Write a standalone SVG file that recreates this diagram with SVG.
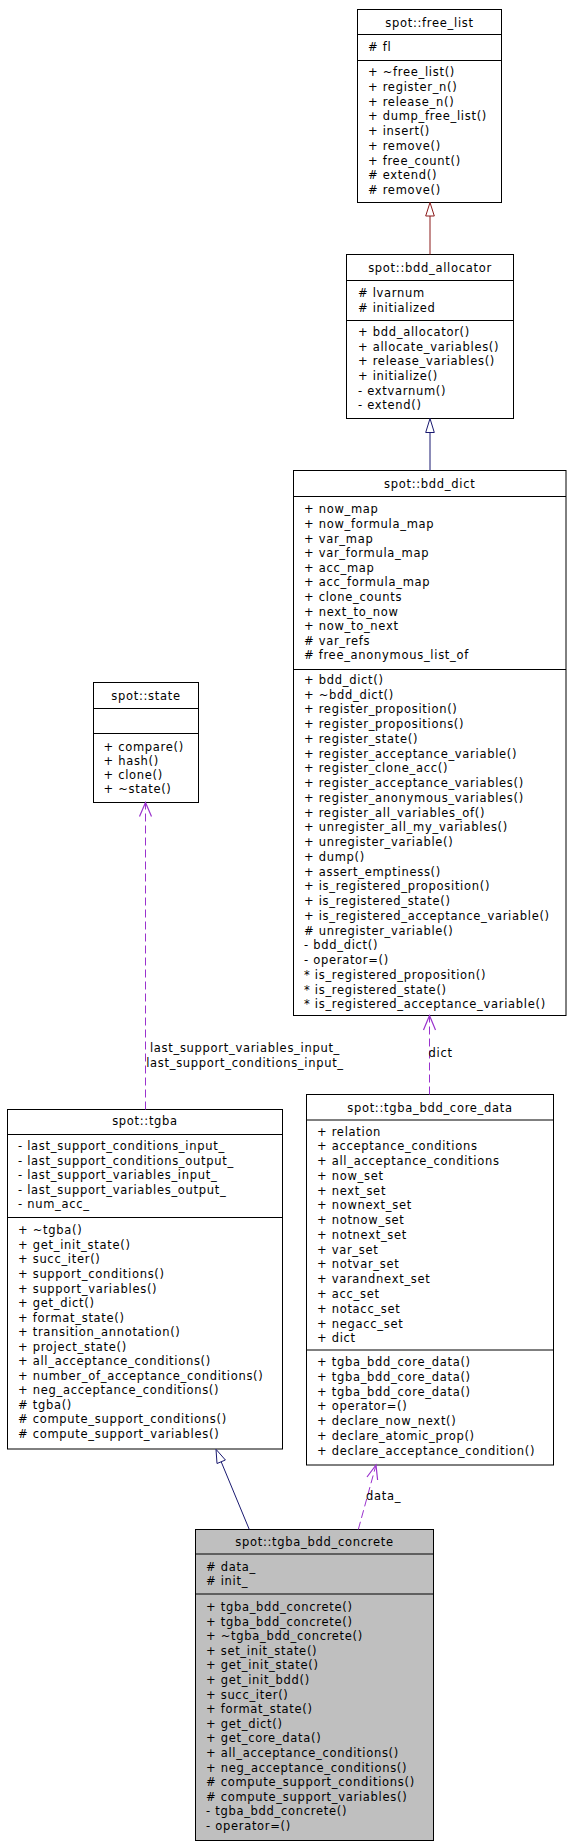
<svg xmlns="http://www.w3.org/2000/svg" width="572" height="1847" viewBox="0 0 572 1847">
<style>
.box{fill:#fff;stroke:#000;stroke-width:1}
.gray{fill:#bfbfbf}
.div{stroke:#000;stroke-width:1}
text{font-family:"DejaVu Sans","Liberation Sans",sans-serif;font-size:11.5px;letter-spacing:0.7px;fill:#000}
.t{text-anchor:middle}
.inhR{stroke:#8b1a1a;stroke-width:1;fill:none}
.inhB{stroke:#191970;stroke-width:1;fill:none}
.triR{stroke:#8b1a1a;stroke-width:1;fill:#fff}
.triB{stroke:#191970;stroke-width:1;fill:#fff}
.use{stroke:#9a32cd;stroke-width:1;fill:none;stroke-dasharray:8,4}
.head{stroke:#9a32cd;stroke-width:1.2;fill:none}
</style>
<rect width="572" height="1847" fill="#fff"/>

<g id="free_list">
<rect class="box" x="357.5" y="9.5" width="144" height="193"/>
<line class="div" x1="357.5" y1="34.5" x2="501.5" y2="34.5"/>
<line class="div" x1="357.5" y1="60.5" x2="501.5" y2="60.5"/>
<text class="t" x="429.5" y="27">spot::free_list</text>
<text x="368" y="51"># fl</text>
<text x="368" y="76">+ ~free_list()<tspan x="368" dy="14.75">+ register_n()</tspan><tspan x="368" dy="14.75">+ release_n()</tspan><tspan x="368" dy="14.75">+ dump_free_list()</tspan><tspan x="368" dy="14.75">+ insert()</tspan><tspan x="368" dy="14.75">+ remove()</tspan><tspan x="368" dy="14.75">+ free_count()</tspan><tspan x="368" dy="14.75"># extend()</tspan><tspan x="368" dy="14.75"># remove()</tspan></text>
</g>

<g id="bdd_allocator">
<rect class="box" x="346.5" y="254.5" width="167" height="164"/>
<line class="div" x1="346.5" y1="280.5" x2="513.5" y2="280.5"/>
<line class="div" x1="346.5" y1="320.5" x2="513.5" y2="320.5"/>
<text class="t" x="430" y="272">spot::bdd_allocator</text>
<text x="358" y="296.7"># lvarnum<tspan x="358" dy="14.8"># initialized</tspan></text>
<text x="358" y="336">+ bdd_allocator()<tspan x="358" dy="14.66">+ allocate_variables()</tspan><tspan x="358" dy="14.66">+ release_variables()</tspan><tspan x="358" dy="14.66">+ initialize()</tspan><tspan x="358" dy="14.66">- extvarnum()</tspan><tspan x="358" dy="14.66">- extend()</tspan></text>
</g>

<g id="bdd_dict">
<rect class="box" x="293.5" y="470.5" width="272.5" height="545"/>
<line class="div" x1="293.5" y1="496.5" x2="566" y2="496.5"/>
<line class="div" x1="293.5" y1="669.5" x2="566" y2="669.5"/>
<text class="t" x="429.7" y="488.3">spot::bdd_dict</text>
<text x="304" y="513.3">+ now_map<tspan x="304" dy="14.6">+ now_formula_map</tspan><tspan x="304" dy="14.6">+ var_map</tspan><tspan x="304" dy="14.6">+ var_formula_map</tspan><tspan x="304" dy="14.6">+ acc_map</tspan><tspan x="304" dy="14.6">+ acc_formula_map</tspan><tspan x="304" dy="14.6">+ clone_counts</tspan><tspan x="304" dy="14.6">+ next_to_now</tspan><tspan x="304" dy="14.6">+ now_to_next</tspan><tspan x="304" dy="14.6"># var_refs</tspan><tspan x="304" dy="14.6"># free_anonymous_list_of</tspan></text>
<text x="304" y="684">+ bdd_dict()<tspan x="304" dy="14.74">+ ~bdd_dict()</tspan><tspan x="304" dy="14.74">+ register_proposition()</tspan><tspan x="304" dy="14.74">+ register_propositions()</tspan><tspan x="304" dy="14.74">+ register_state()</tspan><tspan x="304" dy="14.74">+ register_acceptance_variable()</tspan><tspan x="304" dy="14.74">+ register_clone_acc()</tspan><tspan x="304" dy="14.74">+ register_acceptance_variables()</tspan><tspan x="304" dy="14.74">+ register_anonymous_variables()</tspan><tspan x="304" dy="14.74">+ register_all_variables_of()</tspan><tspan x="304" dy="14.74">+ unregister_all_my_variables()</tspan><tspan x="304" dy="14.74">+ unregister_variable()</tspan><tspan x="304" dy="14.74">+ dump()</tspan><tspan x="304" dy="14.74">+ assert_emptiness()</tspan><tspan x="304" dy="14.74">+ is_registered_proposition()</tspan><tspan x="304" dy="14.74">+ is_registered_state()</tspan><tspan x="304" dy="14.74">+ is_registered_acceptance_variable()</tspan><tspan x="304" dy="14.74"># unregister_variable()</tspan><tspan x="304" dy="14.74">- bdd_dict()</tspan><tspan x="304" dy="14.74">- operator=()</tspan><tspan x="304" dy="14.74">* is_registered_proposition()</tspan><tspan x="304" dy="14.74">* is_registered_state()</tspan><tspan x="304" dy="14.74">* is_registered_acceptance_variable()</tspan></text>
</g>

<g id="state">
<rect class="box" x="93.5" y="682.5" width="105" height="120"/>
<line class="div" x1="93.5" y1="708.5" x2="198.5" y2="708.5"/>
<line class="div" x1="93.5" y1="733.5" x2="198.5" y2="733.5"/>
<text class="t" x="146" y="699.5">spot::state</text>
<text x="103.5" y="750.7">+ compare()<tspan x="103.5" dy="14.2">+ hash()</tspan><tspan x="103.5" dy="14.2">+ clone()</tspan><tspan x="103.5" dy="14.2">+ ~state()</tspan></text>
</g>

<g id="tgba">
<rect class="box" x="7.5" y="1109.5" width="275" height="339.5"/>
<line class="div" x1="7.5" y1="1134.5" x2="282.5" y2="1134.5"/>
<line class="div" x1="7.5" y1="1217.5" x2="282.5" y2="1217.5"/>
<text class="t" x="145" y="1125">spot::tgba</text>
<text x="18" y="1150">- last_support_conditions_input_<tspan x="18" dy="14.6">- last_support_conditions_output_</tspan><tspan x="18" dy="14.6">- last_support_variables_input_</tspan><tspan x="18" dy="14.6">- last_support_variables_output_</tspan><tspan x="18" dy="14.6">- num_acc_</tspan></text>
<text x="18" y="1234.3">+ ~tgba()<tspan x="18" dy="14.55">+ get_init_state()</tspan><tspan x="18" dy="14.55">+ succ_iter()</tspan><tspan x="18" dy="14.55">+ support_conditions()</tspan><tspan x="18" dy="14.55">+ support_variables()</tspan><tspan x="18" dy="14.55">+ get_dict()</tspan><tspan x="18" dy="14.55">+ format_state()</tspan><tspan x="18" dy="14.55">+ transition_annotation()</tspan><tspan x="18" dy="14.55">+ project_state()</tspan><tspan x="18" dy="14.55">+ all_acceptance_conditions()</tspan><tspan x="18" dy="14.55">+ number_of_acceptance_conditions()</tspan><tspan x="18" dy="14.55">+ neg_acceptance_conditions()</tspan><tspan x="18" dy="14.55"># tgba()</tspan><tspan x="18" dy="14.55"># compute_support_conditions()</tspan><tspan x="18" dy="14.55"># compute_support_variables()</tspan></text>
</g>

<g id="tgba_bdd_core_data">
<rect class="box" x="306.5" y="1094.5" width="247" height="370.5"/>
<line class="div" x1="306.5" y1="1120" x2="553.5" y2="1120"/>
<line class="div" x1="306.5" y1="1350" x2="553.5" y2="1350"/>
<text class="t" x="430" y="1111.7">spot::tgba_bdd_core_data</text>
<text x="317" y="1135.5">+ relation<tspan x="317" dy="14.77">+ acceptance_conditions</tspan><tspan x="317" dy="14.77">+ all_acceptance_conditions</tspan><tspan x="317" dy="14.77">+ now_set</tspan><tspan x="317" dy="14.77">+ next_set</tspan><tspan x="317" dy="14.77">+ nownext_set</tspan><tspan x="317" dy="14.77">+ notnow_set</tspan><tspan x="317" dy="14.77">+ notnext_set</tspan><tspan x="317" dy="14.77">+ var_set</tspan><tspan x="317" dy="14.77">+ notvar_set</tspan><tspan x="317" dy="14.77">+ varandnext_set</tspan><tspan x="317" dy="14.77">+ acc_set</tspan><tspan x="317" dy="14.77">+ notacc_set</tspan><tspan x="317" dy="14.77">+ negacc_set</tspan><tspan x="317" dy="14.77">+ dict</tspan></text>
<text x="317" y="1366">+ tgba_bdd_core_data()<tspan x="317" dy="14.8">+ tgba_bdd_core_data()</tspan><tspan x="317" dy="14.8">+ tgba_bdd_core_data()</tspan><tspan x="317" dy="14.8">+ operator=()</tspan><tspan x="317" dy="14.8">+ declare_now_next()</tspan><tspan x="317" dy="14.8">+ declare_atomic_prop()</tspan><tspan x="317" dy="14.8">+ declare_acceptance_condition()</tspan></text>
</g>

<g id="tgba_bdd_concrete">
<rect class="box gray" x="195.5" y="1529.5" width="238" height="311"/>
<line class="div" x1="195.5" y1="1554" x2="433.5" y2="1554"/>
<line class="div" x1="195.5" y1="1594" x2="433.5" y2="1594"/>
<text class="t" x="314.5" y="1546">spot::tgba_bdd_concrete</text>
<text x="206" y="1570.5"># data_<tspan x="206" dy="14.6"># init_</tspan></text>
<text x="206" y="1611">+ tgba_bdd_concrete()<tspan x="206" dy="14.6">+ tgba_bdd_concrete()</tspan><tspan x="206" dy="14.6">+ ~tgba_bdd_concrete()</tspan><tspan x="206" dy="14.6">+ set_init_state()</tspan><tspan x="206" dy="14.6">+ get_init_state()</tspan><tspan x="206" dy="14.6">+ get_init_bdd()</tspan><tspan x="206" dy="14.6">+ succ_iter()</tspan><tspan x="206" dy="14.6">+ format_state()</tspan><tspan x="206" dy="14.6">+ get_dict()</tspan><tspan x="206" dy="14.6">+ get_core_data()</tspan><tspan x="206" dy="14.6">+ all_acceptance_conditions()</tspan><tspan x="206" dy="14.6">+ neg_acceptance_conditions()</tspan><tspan x="206" dy="14.6"># compute_support_conditions()</tspan><tspan x="206" dy="14.6"># compute_support_variables()</tspan><tspan x="206" dy="14.6">- tgba_bdd_concrete()</tspan><tspan x="206" dy="14.6">- operator=()</tspan></text>
</g>

<g id="connectors">
<line class="inhR" x1="430" y1="216" x2="430" y2="254.5"/>
<polygon class="triR" points="430,202.5 425.7,216 434.3,216"/>
<line class="inhB" x1="430" y1="432.5" x2="430" y2="470.5"/>
<polygon class="triB" points="430,418.5 425.7,432.5 434.3,432.5"/>
<line class="inhB" x1="249.3" y1="1529.5" x2="221.2" y2="1461.8"/>
<polygon class="triB" points="216,1449.3 225.4,1460 217,1463.5"/>
<line class="use" x1="145.5" y1="1109.5" x2="145.5" y2="804"/>
<polyline class="head" points="139.5,816.5 145.5,802.5 151.5,816.5"/>
<text class="t" x="245" y="1051.7">last_support_variables_input_</text>
<text class="t" x="245" y="1066.7">last_support_conditions_input_</text>
<line class="use" x1="429.5" y1="1094.5" x2="429.5" y2="1017"/>
<polyline class="head" points="423.5,1030 429.5,1015.5 435.5,1030"/>
<text x="428.5" y="1057">dict</text>
<line class="use" x1="358.3" y1="1529.5" x2="375.6" y2="1466.5"/>
<polyline class="head" points="367,1477 376,1465 377.6,1480"/>
<text x="366" y="1500">data_</text>
</g>
</svg>
